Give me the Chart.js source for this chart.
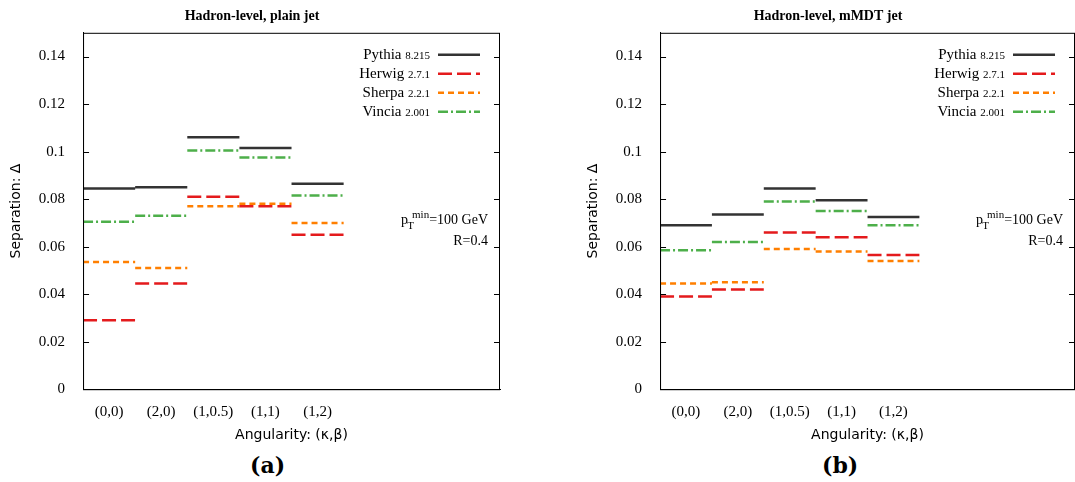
<!DOCTYPE html>
<html><head><meta charset="utf-8">
<script src="https://cdn.jsdelivr.net/npm/chart.js@4/dist/chart.umd.min.js"></script>
<style>
body{margin:0;background:#fff;width:1075px;height:482px;position:relative;font-family:"Liberation Serif",serif}
.box{position:absolute;top:0;width:515px;height:450px}
.cap{position:absolute;top:452px;font:bold 22px "DejaVu Serif",serif}
</style></head><body>
<div class="box" style="left:0"><canvas id="c1"></canvas></div>
<div class="box" style="left:577px"><canvas id="c2"></canvas></div>
<div class="cap" style="left:250px">(a)</div>
<div class="cap" style="left:822px">(b)</div>
<script>
// categories and values
var categories = ['(0,0)','(2,0)','(1,0.5)','(1,1)','(1,2)'];
var generators = ['Pythia','Herwig','Sherpa','Vincia'];
var versions = ['8.215','2.7.1','2.2.1','2.001'];
var colors = ['#333333','#e41a1c','#ff7f00','#4daf4a'];
var dashes = [[], [14,5], [6,4], [10,3,2,3]];
var plainPythia = [0.0845,0.085,0.106,0.1015,0.0865];
var plainHerwig = [0.029,0.0445,0.081,0.077,0.065];
var plainSherpa = [0.0535,0.051,0.077,0.078,0.070];
var plainVincia = [0.0705,0.073,0.1005,0.0975,0.0815];
var mmdtPythia = [0.069,0.0735,0.0845,0.0795,0.0725];
var mmdtHerwig = [0.039,0.042,0.066,0.064,0.0565];
var mmdtSherpa = [0.0445,0.045,0.059,0.058,0.054];
var mmdtVincia = [0.0585,0.062,0.079,0.075,0.069];
var yTicks = [0,0.02,0.04,0.06,0.08,0.1,0.12,0.14];

function steps(vals){
  var pts = [];
  vals.forEach(function(v,i){
    pts.push({x:i-0.5,y:v}); pts.push({x:i+0.5,y:v}); pts.push({x:i+0.5,y:null});
  });
  return pts;
}

var deco = {
  id:'deco',
  afterDraw:function(chart){
    var ctx = chart.ctx, a = chart.chartArea;
    ctx.save();
    ctx.strokeStyle='#000'; ctx.lineWidth=1;
    ctx.strokeRect(a.left+0.5, a.top+0.5, a.right-a.left-1, a.bottom-a.top);
    var sy = chart.scales.y;
    yTicks.forEach(function(v){
      var y = Math.round(sy.getPixelForValue(v))+0.5;
      ctx.beginPath(); ctx.moveTo(a.left,y); ctx.lineTo(a.left+6,y);
      ctx.moveTo(a.right,y); ctx.lineTo(a.right-6,y); ctx.stroke();
    });
    var y0 = a.top + 22;
    chart.data.datasets.forEach(function(ds,i){
      var y = y0 + i*19;
      var xr = a.right - 70;
      ctx.font = '11px "Liberation Serif",serif';
      ctx.textAlign='right'; ctx.textBaseline='middle'; ctx.fillStyle='#000';
      var vw = ctx.measureText(versions[i]).width;
      ctx.fillText(versions[i], xr, y+1);
      ctx.font = '15px "Liberation Serif",serif';
      ctx.fillText(generators[i]+' ', xr - vw, y);
      ctx.strokeStyle = ds.borderColor; ctx.lineWidth = 2.5; ctx.setLineDash(ds.borderDash);
      ctx.beginPath(); ctx.moveTo(a.right-62,y); ctx.lineTo(a.right-20,y); ctx.stroke();
      ctx.setLineDash([]);
    });
    ctx.fillStyle='#000'; ctx.textAlign='right';
    var ty = a.top + 188;
    ctx.font = '14px "Liberation Serif",serif';
    var txt = '=100 GeV';
    var tw = ctx.measureText(txt).width;
    var xr2 = a.right - 12;
    ctx.fillText(txt, xr2, ty);
    ctx.font = '11px "Liberation Serif",serif';
    var mw = ctx.measureText('min').width;
    ctx.fillText('min', xr2 - tw, ty-6);
    ctx.fillText('T', xr2 - tw - mw + 2, ty+5);
    ctx.font = '14px "Liberation Serif",serif';
    ctx.fillText('p', xr2 - tw - mw - 4, ty);
    ctx.fillText('R=0.4', xr2, ty+21);
    ctx.restore();
  }
};

function make(id, title, series, padRight){
  new Chart(document.getElementById(id), {
    type:'line',
    data:{datasets: series.map(function(s,i){
      return {label:generators[i], data:steps(s), borderColor:colors[i], borderWidth:2.5,
        borderDash:dashes[i], pointRadius:0, spanGaps:false, fill:false};
    })},
    options:{
      responsive:false, animation:false,
      layout:{padding:{top:0,right:padRight,left:4,bottom:0}},
      plugins:{legend:{display:false}, tooltip:{enabled:false},
        title:{display:true, text:title, color:'#000', padding:{top:8,bottom:8},
          font:{family:'"Liberation Serif",serif', size:14, weight:'bold'}}},
      scales:{
        x:{type:'linear', min:-0.5, max:7.5, grid:{display:false},
          border:{color:'#000'},
          afterBuildTicks:function(ax){ ax.ticks = categories.map(function(c,i){return {value:i};}); },
          ticks:{color:'#000', font:{family:'"Liberation Serif",serif', size:15}, padding:6,
            callback:function(v){return categories[v];}},
          title:{display:true, text:'Angularity: (κ,β)', color:'#000', padding:{top:0,bottom:2},
            font:{family:'"DejaVu Sans",sans-serif', size:14}}},
        y:{min:0, max:0.15, grid:{display:false}, border:{color:'#000'},
          afterBuildTicks:function(ax){ ax.ticks = yTicks.map(function(v){return {value:v};}); },
          ticks:{color:'#000', font:{family:'"Liberation Serif",serif', size:15}, padding:10,
            callback:function(v){return String(v);}},
          title:{display:true, text:'Separation: Δ', color:'#000',
            font:{family:'"DejaVu Sans",sans-serif', size:14}}}
      }
    },
    plugins:[deco]
  });
}
document.getElementById('c1').width=512; document.getElementById('c1').height=446;
document.getElementById('c2').width=498; document.getElementById('c2').height=446;
make('c1','Hadron-level, plain jet',[plainPythia,plainHerwig,plainSherpa,plainVincia],12);
make('c2','Hadron-level, mMDT jet',[mmdtPythia,mmdtHerwig,mmdtSherpa,mmdtVincia],0);
</script>
</body></html>
